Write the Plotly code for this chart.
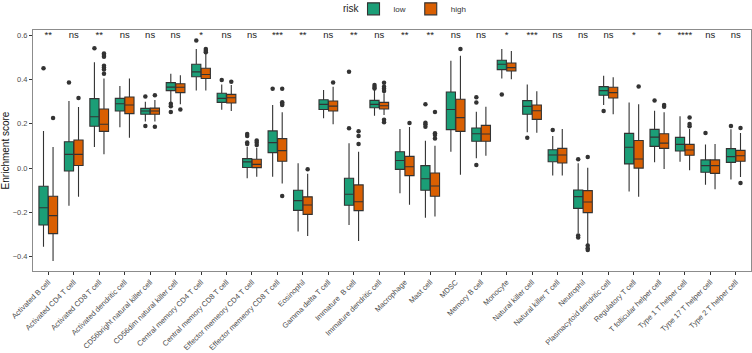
import plotly.graph_objects as go

categories = ["Activated B cell", "Activated CD4 T cell", "Activated CD8 T cell",
              "Activated dendritic cell", "CD56bright natural killer cell",
              "CD56dim natural killer cell", "Central memory CD4 T cell",
              "Central memory CD8 T cell", "Effector memeory CD4 T cell",
              "Effector memeory CD8 T cell", "Eosinophil", "Gamma delta T cell",
              "Immature  B cell", "Immature dendritic cell", "Macrophage", "Mast cell",
              "MDSC", "Memory B cell", "Monocyte", "Natural killer cell",
              "Natural killer T cell", "Neutrophil", "Plasmacytoid dendritic cell",
              "Regulatory T cell", "T follicular helper cell", "Type 1 T helper cell",
              "Type 17 T helper cell", "Type 2 T helper cell"]

significance = ["**", "ns", "**", "ns", "ns", "ns", "*", "ns", "ns", "***", "**", "ns",
                "**", "ns", "**", "**", "ns", "ns", "*", "***", "ns", "ns", "ns", "*",
                "*", "****", "ns", "ns"]

# low risk group: lower fence, q1, median, q3, upper fence
low_lf = [-0.355, -0.170, 0.095, 0.184, 0.210, 0.297, 0.351, 0.264, -0.046, -0.039,
          -0.287, 0.225, -0.257, 0.237, -0.114, -0.224, 0.074, 0.044, 0.405, 0.162,
          -0.034, -0.294, 0.285, -0.106, 0.026, 0.029, -0.075, -0.052]
low_q1 = [-0.257, -0.013, 0.189, 0.258, 0.243, 0.350, 0.413, 0.297, 0.003, 0.070,
          -0.191, 0.265, -0.168, 0.273, -0.006, -0.100, 0.174, 0.121, 0.445, 0.243,
          0.029, -0.182, 0.329, 0.019, 0.098, 0.077, -0.019, 0.026]
low_med = [-0.179, 0.062, 0.232, 0.291, 0.258, 0.366, 0.435, 0.315, 0.028, 0.115,
           -0.147, 0.288, -0.118, 0.288, 0.034, -0.048, 0.265, 0.155, 0.469, 0.279,
           0.059, -0.129, 0.350, 0.094, 0.140, 0.107, 0.011, 0.052]
low_q3 = [-0.082, 0.119, 0.314, 0.315, 0.270, 0.386, 0.469, 0.338, 0.043, 0.168,
          -0.100, 0.309, -0.046, 0.306, 0.074, 0.011, 0.344, 0.181, 0.487, 0.305,
          0.083, -0.099, 0.368, 0.157, 0.175, 0.139, 0.037, 0.088]
low_uf = [0.168, 0.303, 0.478, 0.371, 0.300, 0.426, 0.538, 0.378, 0.097, 0.285,
          0.022, 0.353, 0.112, 0.353, 0.177, 0.124, 0.485, 0.255, 0.538, 0.378,
          0.145, 0.022, 0.417, 0.296, 0.259, 0.234, 0.107, 0.175]
low_out = [[0.451], [0.387], [0.542], [], [0.324, 0.190], [0.291, 0.279, 0.253],
           [0.576], [0.398], [0.154, 0.145, 0.116, 0.109], [0.359], [], [],
           [0.435, 0.180], [0.375, 0.366, 0.360], [], [0.289, 0.205, 0.198, 0.187],
           [], [0.320, 0.296, 0.014], [0.333], [0.137], [0.172], [0.040, -0.305, -0.314],
           [0.258], [], [0.305], [], [0.159], [0.190]]

# high risk group
high_lf = [-0.420, -0.129, 0.062, 0.137, 0.210, 0.288, 0.351, 0.258, -0.039, -0.070,
           -0.307, 0.198, -0.329, 0.240, -0.166, -0.219, -0.030, 0.056, 0.401, 0.160,
           -0.034, -0.344, 0.243, -0.130, -0.004, -0.010, -0.096, -0.040]
high_q1 = [-0.296, 0.012, 0.166, 0.246, 0.243, 0.341, 0.405, 0.294, 0.002, 0.031,
           -0.209, 0.258, -0.192, 0.267, -0.034, -0.127, 0.166, 0.121, 0.439, 0.220,
           0.023, -0.201, 0.317, 0.000, 0.089, 0.058, -0.024, 0.031]
high_med = [-0.215, 0.062, 0.198, 0.285, 0.258, 0.365, 0.423, 0.318, 0.017, 0.079,
            -0.167, 0.280, -0.152, 0.282, 0.006, -0.081, 0.228, 0.154, 0.454, 0.259,
            0.059, -0.153, 0.341, 0.041, 0.113, 0.082, 0.011, 0.056]
high_q3 = [-0.127, 0.127, 0.267, 0.321, 0.271, 0.381, 0.451, 0.333, 0.040, 0.133,
           -0.130, 0.303, -0.076, 0.297, 0.053, -0.022, 0.311, 0.193, 0.475, 0.285,
           0.089, -0.102, 0.365, 0.125, 0.155, 0.107, 0.037, 0.080]
high_uf = [0.095, 0.276, 0.405, 0.405, 0.308, 0.420, 0.518, 0.375, 0.092, 0.252,
           -0.026, 0.368, 0.074, 0.338, 0.186, 0.101, 0.508, 0.277, 0.529, 0.347,
           0.177, 0.002, 0.410, 0.288, 0.252, 0.177, 0.109, 0.159]
high_out = [[0.226], [0.317], [0.518, 0.511, 0.503, 0.463, 0.455, 0.446, 0.426], [],
            [0.329, 0.187], [0.265], [0.538, 0.530, 0.523], [0.390],
            [0.125, 0.116, 0.104], [0.359, 0.297, 0.291, 0.285, -0.126], [-0.005],
            [0.387], [0.166, 0.145, 0.109], [0.386, 0.368, 0.359, 0.348, 0.219, 0.207],
            [0.204], [0.253, 0.157, 0.150, 0.134], [0.538], [], [], [], [],
            [0.050, -0.350, -0.362, -0.370], [], [0.369], [0.285, 0.277],
            [0.229, 0.199, 0.189], [], [0.181, -0.067]]

FONT = "Liberation Sans, Arial, sans-serif"
GREEN = "#1B9E77"
ORANGE = "#D95F02"
DODGE = 0.1875
BOXW = 0.36

n = len(categories)
x_low = [i - DODGE for i in range(n)]
x_high = [i + DODGE for i in range(n)]

fig = go.Figure()

for name, xs, lf, q1, med, q3, uf, color in [
    ("low", x_low, low_lf, low_q1, low_med, low_q3, low_uf, GREEN),
    ("high", x_high, high_lf, high_q1, high_med, high_q3, high_uf, ORANGE),
]:
    fig.add_trace(go.Box(
        x=xs, q1=q1, median=med, q3=q3, lowerfence=lf, upperfence=uf,
        orientation="v", name=name, width=BOXW, whiskerwidth=0,
        fillcolor=color, line=dict(color="#333333", width=1.1),
        boxpoints=False, showlegend=True, hoverinfo="skip",
    ))

for xs, outs in [(x_low, low_out), (x_high, high_out)]:
    ox, oy = [], []
    for xpos, vals in zip(xs, outs):
        for v in vals:
            ox.append(xpos)
            oy.append(v)
    fig.add_trace(go.Scatter(
        x=ox, y=oy, mode="markers", showlegend=False, hoverinfo="skip",
        marker=dict(color="#333333", size=4.5, line=dict(width=0)),
    ))

fig.add_trace(go.Scatter(
    x=list(range(n)), y=[0.6] * n, mode="text", text=significance,
    textposition="middle center", showlegend=False, hoverinfo="skip",
    textfont=dict(family=FONT, size=9.5, color="#222222"),
))

fig.add_annotation(
    text="risk", xref="paper", yref="paper", x=0.4435, y=1.091,
    xanchor="center", yanchor="middle", showarrow=False,
    font=dict(family=FONT, size=10, color="#222222"),
)

fig.update_layout(
    template="none",
    width=752, height=353,
    margin=dict(l=33, r=1, t=30, b=82),
    paper_bgcolor="white", plot_bgcolor="white",
    boxmode="overlay",
    font=dict(family=FONT, color="#222222"),
    legend=dict(
        orientation="h", x=0.4464, xanchor="left", y=0.975, yref="container",
        yanchor="middle", bgcolor="rgba(0,0,0,0)",
        font=dict(size=8, color="#333333"), itemwidth=30, tracegroupgap=0,
    ),
    xaxis=dict(
        range=[-0.6, n - 0.4], automargin=False,
        tickmode="array", tickvals=list(range(n)), ticktext=categories,
        tickangle=-45, tickfont=dict(size=7.5, color="#4d4d4d"),
        ticks="outside", ticklen=3, tickcolor="#333333", tickwidth=1,
        showline=True, linecolor="#8c8c8c", linewidth=1, mirror=True,
        showgrid=False, zeroline=False,
    ),
    yaxis=dict(
        range=[-0.465, 0.624], automargin=False,
        tickmode="array", tickvals=[-0.4, -0.2, 0.0, 0.2, 0.4, 0.6],
        ticktext=["\u22120.4", "\u22120.2", "0.0", "0.2", "0.4", "0.6"],
        tickfont=dict(size=7.5, color="#4d4d4d"),
        ticks="outside", ticklen=3, tickcolor="#333333", tickwidth=1,
        showline=True, linecolor="#8c8c8c", linewidth=1, mirror=True,
        showgrid=False, zeroline=False,
        title=dict(text="Enrichment score", font=dict(size=10, color="#111111"),
                   standoff=4),
    ),
)

fig.write_html("out.html", config={"displayModeBar": False},
               post_script="document.body.style.margin='0';")
